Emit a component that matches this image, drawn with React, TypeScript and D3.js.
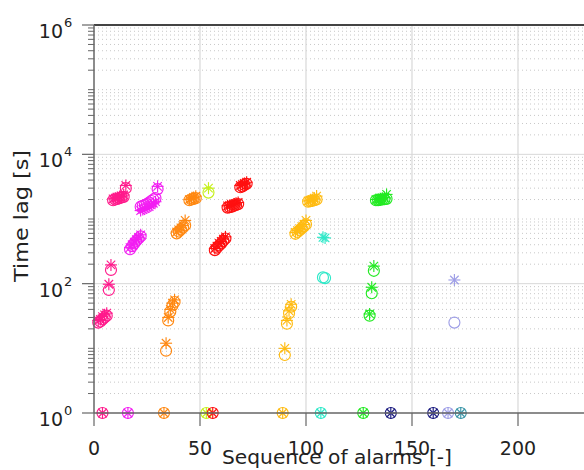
import React from "react";
import * as d3 from "d3";

// ---- data ----
const groupColors = [
  "#ff1a8c", // pink
  "#f21ef2", // magenta
  "#ff8811", // orange
  "#c6f01c", // yellow-green
  "#ff1010", // red
  "#ffbb11", // gold
  "#2ee8c8", // cyan
  "#22ea22", // green
  "#1c1c80", // navy
  "#9e9ee6", // lavender
  "#3a96a8", // teal
];

const alarmSeq = [
  4, 2, 3, 4, 5, 6, 7, 8, 9, 10, 11, 12, 13, 14, 15,
  16, 17, 18, 19, 20, 21, 22, 22, 23, 24, 25, 26, 27, 28, 29, 30,
  33, 34, 35, 36, 37, 38, 39, 40, 41, 42, 43, 45, 46, 47, 48,
  53, 54,
  56, 57, 58, 59, 60, 61, 62, 63, 64, 65, 66, 67, 68, 69, 70, 71, 72,
  89, 90, 91, 92, 93, 95, 96, 97, 98, 99, 100, 101, 102, 103, 104, 105,
  107, 108, 109,
  127, 130, 131, 132, 133, 134, 135, 136, 137, 138,
  140, 160,
  167, 170,
  173,
];

const alarmGroup = [
  0, 0, 0, 0, 0, 0, 0, 0, 0, 0, 0, 0, 0, 0, 0,
  1, 1, 1, 1, 1, 1, 1, 1, 1, 1, 1, 1, 1, 1, 1, 1,
  2, 2, 2, 2, 2, 2, 2, 2, 2, 2, 2, 2, 2, 2, 2,
  3, 3,
  4, 4, 4, 4, 4, 4, 4, 4, 4, 4, 4, 4, 4, 4, 4, 4, 4,
  5, 5, 5, 5, 5, 5, 5, 5, 5, 5, 5, 5, 5, 5, 5, 5,
  6, 6, 6,
  7, 7, 7, 7, 7, 7, 7, 7, 7, 7,
  8, 8,
  9, 9,
  10,
];

// time lag shown with circles
const lagCircle = [
  1, 25, 26, 28, 30, 32, 80, 163, 1950, 2000, 2050, 2100, 2150, 2200, 3000,
  1, 340, 380, 420, 460, 500, 540, 1550, 1600, 1650, 1700, 1800, 1900, 2000, 2100, 2900,
  1, 9.2, 27, 37, 46, 52, 600, 640, 690, 740, 800, 1950, 2000, 2050, 2100,
  1, 2560,
  1, 330, 360, 390, 420, 460, 500, 1500, 1520, 1550, 1600, 1650, 1700, 3100, 3200, 3350, 3500,
  1, 7.9, 24, 35, 44, 590, 630, 670, 720, 770, 830, 1850, 1880, 1910, 1950, 2000,
  1, 125, 122,
  1, 32, 71, 158, 1950, 1960, 1980, 2000, 2020, 2050,
  1, 1,
  1, 25,
  1,
];

// time lag shown with asterisks
const lagStar = [
  1, 27, 28, 31, 33, 35, 98, 195, 2050, 2100, 2150, 2200, 2250, 2350, 3300,
  1, 360, 400, 440, 480, 520, 570, 1350, 1400, 1450, 1500, 1550, 1650, 1750, 1850, 3200,
  1, 12, 30, 40, 50, 56, 630, 680, 730, 790, 950, 2000, 2050, 2150, 2250,
  1, 3000,
  1, 350, 380, 420, 450, 490, 530, 1600, 1620, 1650, 1700, 1750, 1800, 3300, 3400, 3550, 3700,
  1, 10, 27, 38, 48, 620, 660, 710, 760, 820, 950, 1900, 1950, 2000, 2100, 2260,
  1, 521, 510,
  1, 34, 88, 187, 2000, 2020, 2050, 2100, 2150, 2400,
  1, 1,
  1, 114,
  1,
];

const xTicks = [0, 50, 100, 150, 200, 250];
const xTickLabels = ["0", "50", "100", "150", "200", ""];
const yLabelExps = [0, 2, 4, 6];

const W = 584;
const H = 470;
const FONT = "'DejaVu Sans', sans-serif";

export default function App() {
  const x = d3.scaleLinear().domain([0, 250]).range([94, 624]);
  const y = d3.scaleLog().domain([1, 1e6]).range([413, 25]);

  const minorVals: number[] = [];
  for (let d = 0; d < 6; d++) {
    for (let k = 2; k <= 9; k++) minorVals.push(k * Math.pow(10, d));
    if (d % 2 === 1) minorVals.push(Math.pow(10, d));
  }
  const majorGridVals = [100, 1e4];

  const left = x(0);
  const right = W + 40;
  const top = y(1e6);
  const bottom = y(1);
  const r = 5.5;
  const s = 6;

  return (
    <svg
      width={W}
      height={H}
      style={{ position: "absolute", left: 0, top: 0, background: "#fff" }}
      fontFamily={FONT}
    >
      {/* grid */}
      {minorVals.map((v, i) => (
        <line
          key={"mg" + i}
          x1={left}
          x2={right}
          y1={y(v)}
          y2={y(v)}
          stroke="#c8c8c8"
          strokeWidth={1}
          strokeDasharray="1 3"
        />
      ))}
      {majorGridVals.map((v, i) => (
        <line key={"Mg" + i} x1={left} x2={right} y1={y(v)} y2={y(v)} stroke="#d8d8d8" strokeWidth={1} />
      ))}
      {xTicks.slice(1).map((v, i) => (
        <line key={"vg" + i} x1={x(v)} x2={x(v)} y1={top} y2={bottom} stroke="#d8d8d8" strokeWidth={1.2} />
      ))}

      {/* points */}
      {alarmSeq.map((sq, i) => {
        const c = groupColors[alarmGroup[i]];
        const cx = x(sq);
        const cy = y(lagCircle[i]);
        const sy = y(lagStar[i]);
        const dd = s * 0.7071;
        return (
          <g key={"p" + i} stroke={c} strokeWidth={1.15} fill="none">
            <circle cx={cx} cy={cy} r={r} />
            <line x1={cx - s} x2={cx + s} y1={sy} y2={sy} />
            <line x1={cx} x2={cx} y1={sy - s} y2={sy + s} />
            <line x1={cx - dd} x2={cx + dd} y1={sy - dd} y2={sy + dd} />
            <line x1={cx - dd} x2={cx + dd} y1={sy + dd} y2={sy - dd} />
          </g>
        );
      })}

      {/* axes */}
      <line x1={left} x2={right} y1={top} y2={top} stroke="#444" strokeWidth={2} />
      <line x1={left} x2={right} y1={bottom} y2={bottom} stroke="#666" strokeWidth={1.5} />
      <line x1={left} x2={left} y1={top} y2={bottom} stroke="#666" strokeWidth={1.5} />

      {minorVals.map((v, i) => (
        <line key={"mt" + i} x1={left - 6} x2={left} y1={y(v)} y2={y(v)} stroke="#666" strokeWidth={1} />
      ))}
      {yLabelExps.map((e) => (
        <g key={"yl" + e}>
          <line x1={left - 12} x2={left} y1={y(Math.pow(10, e))} y2={y(Math.pow(10, e))} stroke="#666" strokeWidth={1.2} />
          <text x={63} y={y(Math.pow(10, e)) + 13} fontSize={19} textAnchor="end" fill="#222">
            10
          </text>
          <text x={64} y={y(Math.pow(10, e)) + 2} fontSize={13} textAnchor="start" fill="#222">
            {e}
          </text>
        </g>
      ))}

      {xTicks.map((v, i) => (
        <g key={"xt" + v}>
          <line x1={x(v)} x2={x(v)} y1={bottom} y2={bottom + 13} stroke="#666" strokeWidth={1.2} />
          {xTickLabels[i] ? (
            <text x={x(v)} y={455} fontSize={19} textAnchor="middle" fill="#222">
              {xTickLabels[i]}
            </text>
          ) : null}
        </g>
      ))}

      <text x={222} y={464} fontSize={19} textLength={230} lengthAdjust="spacingAndGlyphs" fill="#222">
        Sequence of alarms [-]
      </text>
      <text
        transform="translate(28,216) rotate(-90)"
        fontSize={19}
        textAnchor="middle"
        textLength={132}
        lengthAdjust="spacingAndGlyphs"
        fill="#222"
      >
        Time lag [s]
      </text>
    </svg>
  );
}
